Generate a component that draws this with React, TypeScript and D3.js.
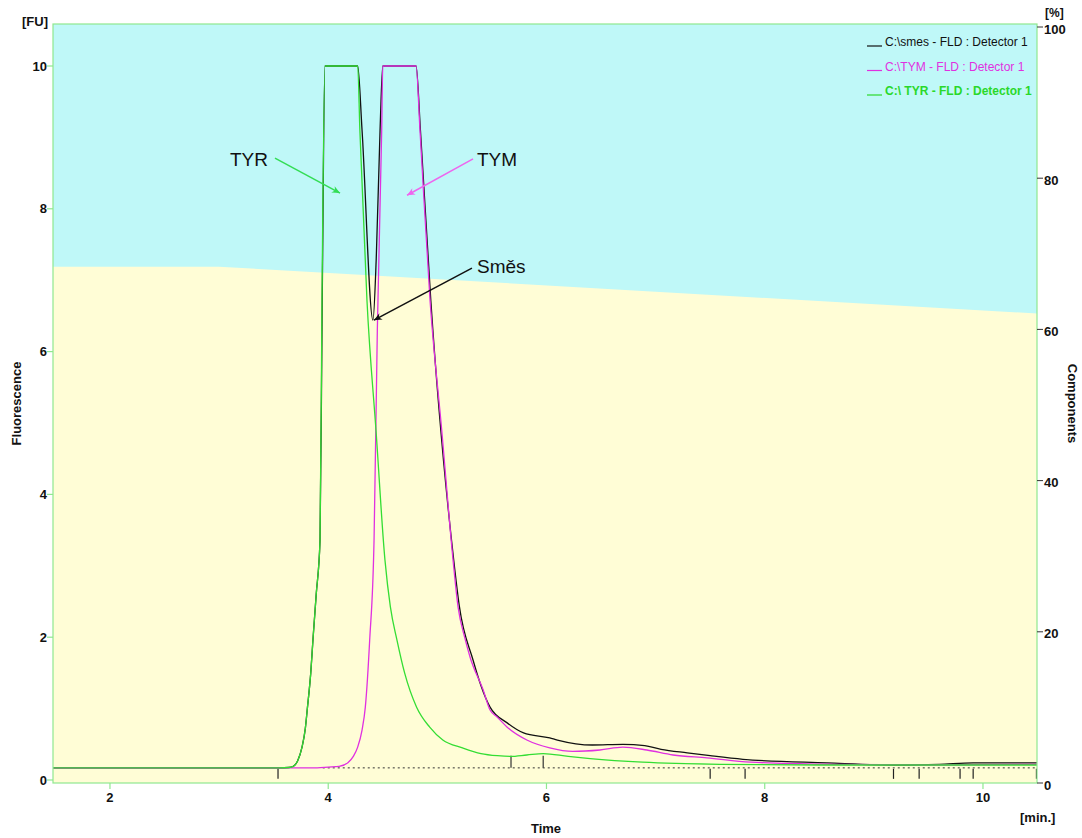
import React from 'react';
import * as d3 from 'd3';

const timeTicks = [2, 4, 6, 8, 10];
const fluTicks = [0, 2, 4, 6, 8, 10];
const compTicks = [0, 20, 40, 60, 80, 100];

const components: [number, number][] = [[1.478, 68.3], [3.0, 68.3], [10.495, 62.1]];

const smes: [number, number][] = [
  [1.478, 0.17], [3.55, 0.17], [3.64, 0.175], [3.68, 0.19], [3.72, 0.27], [3.76, 0.46], [3.79, 0.72],
  [3.81, 1.02], [3.84, 1.5], [3.86, 1.96], [3.89, 2.6], [3.925, 3.36], [3.945, 6.72], [3.97, 10],
  [4.27, 10], [4.31, 9.1], [4.41, 6.44], [4.44, 7.3], [4.475, 9.1], [4.5, 10], [4.805, 10],
  [4.845, 9.1], [4.94, 6.72], [5.15, 3.08], [5.2, 2.45], [5.327, 1.68], [5.4, 1.32], [5.483, 1.02],
  [5.64, 0.8], [5.79, 0.66], [6.03, 0.59], [6.1, 0.56], [6.42, 0.49], [6.7, 0.5], [6.9, 0.48],
  [7.05, 0.43], [7.29, 0.38], [7.5, 0.34], [7.8, 0.29], [8.57, 0.24], [9.24, 0.21], [9.6, 0.22],
  [9.91, 0.24], [10.495, 0.24],
];

const tym: [number, number][] = [
  [1.478, 0.17], [3.9, 0.17], [4.0, 0.18], [4.1, 0.19], [4.18, 0.24], [4.23, 0.33], [4.27, 0.46],
  [4.31, 0.7], [4.34, 1.02], [4.38, 1.96], [4.42, 3.36], [4.45, 6.3], [4.49, 9.1], [4.5, 10],
  [4.805, 10], [4.841, 9.1], [4.933, 6.72], [5.04, 4.9], [5.144, 3.08], [5.19, 2.42], [5.25, 2.0],
  [5.3, 1.72], [5.42, 1.26], [5.483, 0.98], [5.55, 0.88], [5.64, 0.74], [5.82, 0.56], [6.03, 0.45],
  [6.24, 0.4], [6.49, 0.42], [6.7, 0.46], [6.92, 0.42], [7.16, 0.35], [7.47, 0.31], [7.87, 0.25],
  [8.63, 0.22], [9.54, 0.21], [10.495, 0.22],
];

const tyr: [number, number][] = [
  [1.478, 0.17], [3.55, 0.17], [3.64, 0.175], [3.68, 0.19], [3.72, 0.27], [3.76, 0.46], [3.79, 0.72],
  [3.81, 1.02], [3.84, 1.5], [3.86, 1.96], [3.89, 2.6], [3.925, 3.36], [3.943, 6.72], [3.97, 10],
  [4.27, 10], [4.29, 9.1], [4.355, 6.72], [4.44, 4.85], [4.52, 3.08], [4.57, 2.42], [4.63, 1.96],
  [4.7, 1.5], [4.81, 1.02], [4.93, 0.74], [5.05, 0.56], [5.23, 0.45], [5.4, 0.37], [5.55, 0.34],
  [5.67, 0.33], [5.82, 0.35], [5.97, 0.37], [6.2, 0.33], [6.4, 0.3], [6.88, 0.25], [7.59, 0.22],
  [8.5, 0.21], [10.495, 0.21],
];

const baselineLevel = 0.17;
const baselineStart = 3.95;
const markersBelow = [3.54, 7.5, 7.82, 9.18, 9.415, 9.79, 9.91, 10.49];
const markersAbove = [5.675, 5.97];

const legendLabels = ['C:\\smes - FLD : Detector 1', 'C:\\TYM - FLD : Detector 1', 'C:\\ TYR - FLD : Detector 1'];
const legendColors = ['#111111', '#e030e0', '#2ad82a'];

const annotations = [
  { label: 'TYR', tx: 3.1, tv: 8.6, from: [3.512, 8.71], to: [4.108, 8.22], color: '#33dd55', id: 'g' },
  { label: 'TYM', tx: 5.363, tv: 8.6, from: [5.327, 8.7], to: [4.722, 8.19], color: '#ee66ee', id: 'm' },
  { label: 'Směs', tx: 5.363, tv: 7.1, from: [5.317, 7.17], to: [4.419, 6.44], color: '#111111', id: 'k' },
];

const W = 1082;
const H = 838;
const L = 53, R = 1037, T = 24, B = 783;
const font = '"Liberation Sans", Arial, sans-serif';

export default function App() {
  const x = d3.scaleLinear().domain([1.478, 10.495]).range([L, R]);
  const y = d3.scaleLinear().domain([0, 10]).range([780, 66]);
  const yc = d3.scaleLinear().domain([0, 100]).range([B, 27]);

  const line = d3.line<[number, number]>().x(d => x(d[0])).y(d => y(d[1])).curve(d3.curveMonotoneX);
  const compArea = d3.area<[number, number]>().x(d => x(d[0])).y0(B).y1(d => yc(d[1]));
  const axisColor = '#8fe88f';

  return (
    <svg width={W} height={H} style={{ position: 'absolute', left: 0, top: 0, background: '#fff' }} fontFamily={font}>
      <defs>
        {annotations.map(a => (
          <marker key={a.id} id={'arr' + a.id} viewBox="0 0 10 10" refX="10" refY="5" markerWidth="11" markerHeight="8"
            markerUnits="userSpaceOnUse" orient="auto">
            <path d="M0,0.5 L10,5 L0,9.5 L3,5 z" fill={a.color} />
          </marker>
        ))}
        <clipPath id="plotclip"><rect x={L} y={T} width={R - L} height={B - T} /></clipPath>
      </defs>
      <rect x={L} y={T} width={R - L} height={B - T} fill="#bff8f8" />
      <path d={compArea(components) || ''} fill="#fffdd6" />
      <g clipPath="url(#plotclip)">
        <line x1={x(baselineStart)} x2={R} y1={y(baselineLevel)} y2={y(baselineLevel)} stroke="#333" strokeWidth={1} strokeDasharray="2,3" />
        {markersBelow.map((m, i) => (
          <line key={'mb' + i} x1={x(m)} x2={x(m)} y1={y(baselineLevel) + 1} y2={y(baselineLevel) + 11} stroke="#222" strokeWidth={1.2} />
        ))}
        {markersAbove.map((m, i) => (
          <line key={'ma' + i} x1={x(m)} x2={x(m)} y1={y(baselineLevel) - 12} y2={y(baselineLevel)} stroke="#333" strokeWidth={1.2} />
        ))}
        <path d={line(smes) || ''} fill="none" stroke="#111" strokeWidth={1.3} />
        <path d={line(tym) || ''} fill="none" stroke="#e030e0" strokeWidth={1.3} />
        <path d={line(tyr) || ''} fill="none" stroke="#33dd33" strokeWidth={1.3} />
      </g>
      <rect x={L} y={T} width={R - L} height={B - T} fill="none" stroke={axisColor} strokeWidth={1.2} />

      {fluTicks.map(t => (
        <g key={'f' + t}>
          <line x1={L - 6} x2={L} y1={y(t)} y2={y(t)} stroke={axisColor} strokeWidth={1.2} />
          <text x={L - 6} y={y(t)} dy="0.35em" textAnchor="end" fontSize={13} fontWeight="bold" fill="#111">{t}</text>
        </g>
      ))}
      {timeTicks.map(t => (
        <g key={'t' + t}>
          <line x1={x(t)} x2={x(t)} y1={B} y2={B + 6} stroke={axisColor} strokeWidth={1.2} />
          <text x={x(t)} y={B + 14} dy="0.35em" textAnchor="middle" fontSize={13} fontWeight="bold" fill="#111">{t}</text>
        </g>
      ))}
      {compTicks.map(t => (
        <g key={'c' + t}>
          <line x1={R} x2={R + 6} y1={yc(t)} y2={yc(t)} stroke="#333" strokeWidth={1} />
          <text x={R + 7} y={yc(t) + 2} dy="0.35em" textAnchor="start" fontSize={13} fontWeight="bold" fill="#111">{t}</text>
        </g>
      ))}

      <text x={22} y={26} fontSize={13} fontWeight="bold" fill="#111">[FU]</text>
      <text x={1045} y={17} fontSize={12} fontWeight="bold" fill="#111">[%]</text>
      <text x={1020} y={822} fontSize={13} fontWeight="bold" fill="#111">[min.]</text>
      <text x={546} y={833} textAnchor="middle" fontSize={13} fontWeight="bold" fill="#111">Time</text>
      <text transform={`translate(21,${(T + B) / 2}) rotate(-90)`} textAnchor="middle" fontSize={13} fontWeight="bold" fill="#111">Fluorescence</text>
      <text transform={`translate(1068,${(T + B) / 2}) rotate(90)`} textAnchor="middle" fontSize={13} fontWeight="bold" fill="#111">Components</text>

      {legendLabels.map((lab, i) => (
        <g key={'l' + i}>
          <line x1={867} x2={882} y1={46 + i * 24.5} y2={46 + i * 24.5} stroke={legendColors[i]} strokeWidth={1.2} />
          <text x={885} y={46 + i * 24.5} fontSize={12} fontWeight={i === 2 ? 'bold' : 'normal'} fill={legendColors[i]}>{lab}</text>
        </g>
      ))}

      {annotations.map(a => (
        <g key={'a' + a.id}>
          <text x={x(a.tx)} y={y(a.tv)} fontSize={19} fill="#111">{a.label}</text>
          <line x1={x(a.from[0])} y1={y(a.from[1])} x2={x(a.to[0])} y2={y(a.to[1])} stroke={a.color} strokeWidth={1.5} markerEnd={`url(#arr${a.id})`} />
        </g>
      ))}
    </svg>
  );
}
